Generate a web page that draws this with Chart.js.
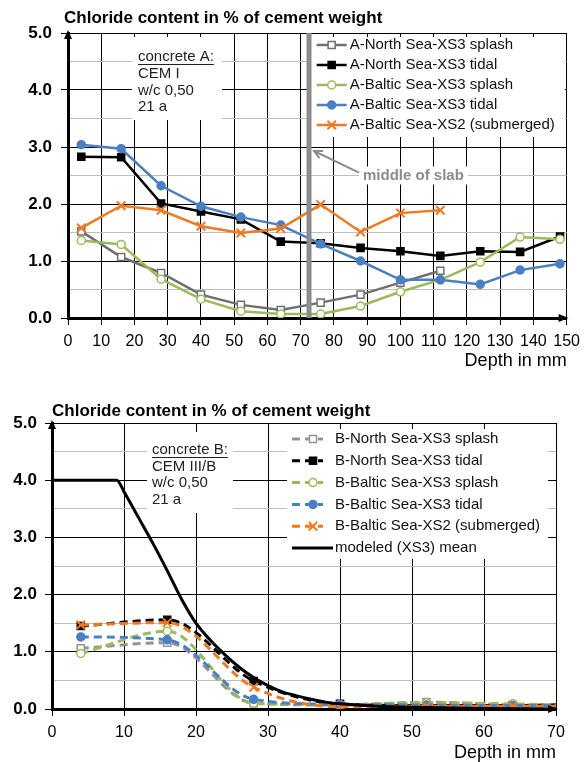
<!DOCTYPE html>
<html>
<head>
<meta charset="utf-8">
<script src="https://cdn.jsdelivr.net/npm/chart.js@4.4.1/dist/chart.umd.min.js"></script>
<style>
  html,body{margin:0;padding:0;background:#fff;}
  #wrap{position:relative;width:587px;height:762px;overflow:hidden;}
  #boxA{position:absolute;left:0;top:0;width:587px;height:380px;}
  #boxB{position:absolute;left:0;top:380px;width:587px;height:382px;}
</style>
</head>
<body>
<div id="wrap">
  <div id="boxA"><canvas id="chartA"></canvas></div>
  <div id="boxB"><canvas id="chartB"></canvas></div>
</div>
<script>
// ---- concrete A (depth 0..150 mm) ----
const depthA = [4,16,28,40,52,64,76,88,100,112,124,136,148];
const aNorthSplash = [1.52,1.07,0.79,0.41,0.23,0.14,0.27,0.41,0.62,0.83];
const aNorthTidal  = [2.83,2.82,2.01,1.87,1.73,1.34,1.31,1.23,1.17,1.09,1.17,1.16,1.43];
const aBalticSplash= [1.36,1.29,0.68,0.33,0.12,0.07,0.07,0.21,0.46,0.67,0.98,1.42,1.38];
const aBalticTidal = [3.04,2.97,2.32,1.96,1.77,1.63,1.30,1.00,0.67,0.67,0.59,0.84,0.95];
const aBalticXS2   = [1.58,1.97,1.89,1.61,1.49,1.57,1.99,1.51,1.84,1.89];
const slabDepth = 72.5;
const slabRange = [0,5];

// ---- concrete B (depth 0..70 mm) ----
const depthB = [4,16,28,40,52,64,76];
const bNorthSplash = [1.06,1.16,0.10,0.07,0.12,0.07,0.06];
const bNorthTidal  = [1.45,1.56,0.49,0.09,0.06,0.06,0.10];
const bBalticSplash= [0.97,1.36,0.10,0.08,0.11,0.09,0.05];
const bBalticTidal = [1.26,1.21,0.17,0.08,0.07,0.06,0.06];
const bBalticXS2   = [1.47,1.51,0.38,0.04,0.05,0.05,0.04];
const depthModel = [0,9,10,12,14,16,18,20,22,24,26,28,30,32,34,36,38,40,45,50,60,70];
const modelMean  = [4.0,4.0,3.8,3.35,2.9,2.42,1.92,1.5,1.2,0.95,0.73,0.55,0.41,0.30,0.23,0.17,0.12,0.09,0.05,0.03,0.01,0.0];

const boxTextA = ['concrete A:','CEM I','w/c 0,50','21 a'];
const boxTextB = ['concrete B:','CEM III/B','w/c 0,50','21 a'];
const titleText = 'Chloride content in % of cement weight';

const FONT = '"Liberation Sans", Arial, Helvetica, sans-serif';
Chart.defaults.font.family = FONT;
Chart.defaults.color = '#000';

const pts = (xs, ys) => ys.map((v,i)=>({x:xs[i], y:v}));

const C = {gray:'#707070', gray2:'#939393', black:'#000000', green:'#9bbb59', blue:'#4a7fc1', orange:'#ef7a22'};

function drawMark(ctx, d, x, y){
  ctx.fillStyle = d.pointBackgroundColor; ctx.strokeStyle = d.pointBorderColor;
  ctx.lineWidth = d.pointBorderWidth;
  Chart.helpers.drawPoint(ctx, {pointStyle:d.pointStyle, radius:d.pointRadius, borderWidth:d.pointBorderWidth, rotation:0}, x, y);
}

// text box, legend box, title, arrows
const decor = {
  id:'decor',
  beforeDatasetsDraw(chart, args, o){
    const {ctx, chartArea:a} = chart;
    ctx.save();
    // info box
    const b = o.box;
    ctx.fillStyle = '#fff';
    ctx.fillRect(a.left+b.dx, a.top+b.dy, b.w, b.h);
    ctx.font = '15px '+FONT; ctx.textBaseline='middle'; ctx.textAlign='left';
    ctx.fillStyle = '#222';
    b.lines.forEach((t,i)=>{
      const x = a.left+b.dx+b.pad, y = a.top+b.dy+b.y0+i*b.lh;
      ctx.fillText(t, x, y);
      if(i===0) ctx.fillRect(x, y+7, ctx.measureText(t).width, 1);
    });
    // legend
    const L = o.legend;
    const lx = a.right-L.dr-L.w, ly = a.top+L.dy;
    ctx.fillStyle = '#fff'; ctx.fillRect(lx, ly, L.w, L.h);
    chart.data.datasets.filter(d=>d.label).forEach((d,i)=>{
      const y = ly+L.row0+i*L.rowH;
      const x1 = d.pointRadius>0 ? lx+L.sx1 : lx+L.tx-2;
      ctx.strokeStyle = d.borderColor; ctx.lineWidth = d.borderWidth;
      ctx.setLineDash(d.borderDash||[]);
      ctx.beginPath(); ctx.moveTo(lx+L.sx0, y); ctx.lineTo(x1, y); ctx.stroke();
      ctx.setLineDash([]);
      if(d.pointRadius>0) drawMark(ctx, d, lx+L.mx, y);
      ctx.fillStyle = '#111'; ctx.font = '15px '+FONT;
      ctx.fillText(d.label, lx+L.tx, y);
    });
    // slab note
    if(o.slab){
      const xs = chart.scales.x.getPixelForValue(slabDepth), ys = chart.scales.y;
      const ty = ys.getPixelForValue(2.5);
      ctx.font = 'bold 15px '+FONT;
      const tw = ctx.measureText('middle of slab').width;
      ctx.fillStyle='#fff'; ctx.fillRect(xs+50, ty-9, tw+8, 18);
      ctx.fillStyle='#8c8c8c'; ctx.fillText('middle of slab', xs+54, ty);
      const x0 = xs+50, y0 = ys.getPixelForValue(2.55), x1 = xs+5, y1 = ys.getPixelForValue(2.93);
      ctx.strokeStyle='#8c8c8c'; ctx.lineWidth=2;
      ctx.beginPath(); ctx.moveTo(x0,y0); ctx.lineTo(x1,y1); ctx.stroke();
      const ang = Math.atan2(y0-y1, x0-x1);
      ctx.beginPath();
      ctx.moveTo(x1+9*Math.cos(ang-0.45), y1+9*Math.sin(ang-0.45));
      ctx.lineTo(x1,y1);
      ctx.lineTo(x1+9*Math.cos(ang+0.45), y1+9*Math.sin(ang+0.45));
      ctx.stroke();
    }
    ctx.restore();
  },
  afterDraw(chart, args, o){
    const {ctx, chartArea:a} = chart;
    ctx.save();
    ctx.fillStyle='#000';
    ctx.font = 'bold 17px '+FONT; ctx.textBaseline='middle'; ctx.textAlign='left';
    ctx.fillText(titleText, a.left+o.title.dx, a.top+o.title.dy);
    // axis arrows
    ctx.beginPath();
    ctx.moveTo(a.left, a.top-3); ctx.lineTo(a.left-4, a.top+6); ctx.lineTo(a.left+4, a.top+6); ctx.closePath(); ctx.fill();
    ctx.beginPath();
    ctx.moveTo(a.right+2, a.bottom); ctx.lineTo(a.right-8, a.bottom-4); ctx.lineTo(a.right-8, a.bottom+4); ctx.closePath(); ctx.fill();
    ctx.restore();
  }
};

function lineDs(label, xs, ys, color, style, open, i, dashed){
  return {
    label, data: pts(xs, ys), borderColor: color, backgroundColor: color,
    borderWidth: dashed ? 3 : 2.5, borderDash: dashed ? [8,5] : [],
    pointStyle: style, pointRadius: style==='rect' ? 5 : (style==='crossRot' ? 6 : 4),
    pointBackgroundColor: open ? '#fff' : color, pointBorderColor: color,
    pointBorderWidth: style==='crossRot' ? 2 : 1.5,
    tension: 0, cubicInterpolationMode: dashed ? 'monotone' : 'default',
    order: 10-i
  };
}

function yAxis(width, pad){
  return {
    min:0, max:5,
    ticks:{stepSize:0.5, autoSkip:false, padding:pad, color:'#000', font:{size:17, weight:'bold'},
      callback:v=> Math.abs(v%1)<1e-9 ? v.toFixed(1) : ''},
    grid:{color:c=> c.tick && Math.abs(c.tick.value%1)<1e-9 ? '#000' : '#bdbdbd', lineWidth:1, tickLength:7,
      tickColor:c=> c.tick && Math.abs(c.tick.value%1)<1e-9 ? '#000' : 'rgba(0,0,0,0)'},
    border:{color:'#000', width:3},
    afterFit(s){ s.width = width; }
  };
}

function xAxis(max, height, tpad){
  return {
    type:'linear', min:0, max:max,
    ticks:{stepSize:10, autoSkip:false, maxRotation:0, padding:7, color:'#000', font:{size:16}},
    grid:{color:'#000', lineWidth:1, tickLength:7, tickColor:'#000'},
    border:{color:'#000', width:3},
    title:{display:true, text:'Depth in mm', align:'end', color:'#000', font:{size:18, lineHeight:1}, padding:{top:0, bottom:tpad}},
    afterFit(s){ s.height = height; }
  };
}

const common = {
  responsive:true, maintainAspectRatio:false, animation:false, devicePixelRatio:1,
  events:[],
};

new Chart(document.getElementById('chartA'), {
  type:'line',
  data:{datasets:[
    lineDs('A-North Sea-XS3 splash', depthA, aNorthSplash, C.gray, 'rect', true, 0),
    lineDs('A-North Sea-XS3 tidal', depthA, aNorthTidal, C.black, 'rect', false, 1),
    lineDs('A-Baltic Sea-XS3 splash', depthA, aBalticSplash, C.green, 'circle', true, 2),
    lineDs('A-Baltic Sea-XS3 tidal', depthA, aBalticTidal, C.blue, 'circle', false, 3),
    lineDs('A-Baltic Sea-XS2 (submerged)', depthA, aBalticXS2, C.orange, 'crossRot', false, 4),
    {data: slabRange.map(v=>({x:slabDepth, y:v})), borderColor:'#8c8c8c', borderWidth:5, pointRadius:0, order:0}
  ]},
  options:{...common,
    layout:{padding:{left:0, top:33, right:15, bottom:2}},
    scales:{x:xAxis(150, 60, 8), y:yAxis(68, 9)},
    plugins:{legend:{display:false}, tooltip:{enabled:false},
      decor:{
        title:{dx:-4, dy:-15},
        box:{lines:boxTextA, dx:64, dy:4, w:90, h:83, pad:6, y0:20, lh:16.7},
        legend:{dr:2, dy:4, w:254, h:100, row0:8, rowH:20, sx0:6, sx1:36, mx:21, tx:39},
        slab:true
      }}
  },
  plugins:[decor]
});

new Chart(document.getElementById('chartB'), {
  type:'line',
  data:{datasets:[
    lineDs('B-North Sea-XS3 splash', depthB, bNorthSplash, C.gray2, 'rect', true, 0, true),
    lineDs('B-North Sea-XS3 tidal', depthB, bNorthTidal, C.black, 'rect', false, 1, true),
    lineDs('B-Baltic Sea-XS3 splash', depthB, bBalticSplash, C.green, 'circle', true, 2, true),
    lineDs('B-Baltic Sea-XS3 tidal', depthB, bBalticTidal, C.blue, 'circle', false, 3, true),
    lineDs('B-Baltic Sea-XS2 (submerged)', depthB, bBalticXS2, C.orange, 'crossRot', false, 4, true),
    {label:'modeled (XS3) mean', data: pts(depthModel, modelMean), borderColor:'#000', backgroundColor:'#000',
      borderWidth:3, pointRadius:0, cubicInterpolationMode:'monotone', order:0}
  ]},
  options:{...common,
    layout:{padding:{left:0, top:43, right:31, bottom:0}},
    scales:{x:xAxis(70, 53, 0), y:yAxis(52, 8)},
    plugins:{legend:{display:false}, tooltip:{enabled:false},
      decor:{
        title:{dx:0, dy:-12},
        box:{lines:boxTextB, dx:95, dy:9, w:86, h:81, pad:5, y0:18, lh:16.5},
        legend:{dr:8, dy:6, w:261, h:130, row0:10, rowH:21.8, sx0:5, sx1:36, mx:26, tx:48},
        slab:false
      }}
  },
  plugins:[decor]
});
</script>
</body>
</html>
